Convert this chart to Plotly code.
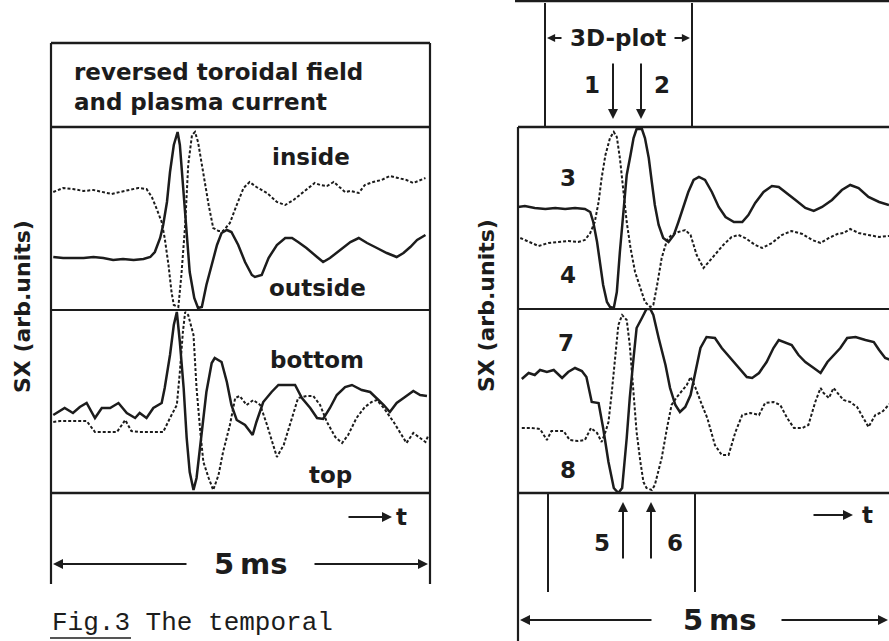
import plotly.graph_objects as go

W, H = 889, 641

# ---------------- data (time in ms, signal in arb. units) ----------------
# left panel, upper box
T_INSIDE = [0.03,0.16,0.29,0.43,0.56,0.69,0.80,0.91,1.04,1.15,1.26,1.33,1.39,1.46,1.50,1.55,1.59,1.62,1.68,1.72,1.77,1.81,1.86,1.90,1.94,2.01,2.08,2.14,2.21,2.27,2.36,2.45,2.54,2.62,2.71,2.85,2.98,3.09,3.20,3.33,3.48,3.55,3.64,3.73,3.81,3.88,3.95,4.06,4.14,4.25,4.36,4.47,4.58,4.69,4.78,4.87,4.94]
V_INSIDE = [118,122,121,119,120,118,116,118,120,122,121,113,102,88,72,45,18,5,3,35,85,145,175,178,168,135,105,82,79,79,87,105,122,128,123,117,108,105,110,118,127,125,124,128,123,118,119,117,125,128,130,134,132,130,127,130,132]

T_OUTSIDE = [0.03,0.16,0.29,0.43,0.56,0.69,0.82,0.95,1.09,1.22,1.31,1.37,1.44,1.48,1.53,1.57,1.62,1.67,1.70,1.75,1.79,1.83,1.89,1.94,1.99,2.05,2.12,2.19,2.25,2.32,2.38,2.47,2.56,2.65,2.69,2.78,2.87,2.98,3.09,3.18,3.26,3.37,3.51,3.59,3.68,3.81,3.95,4.06,4.17,4.30,4.43,4.56,4.65,4.74,4.83,4.94]
V_OUTSIDE = [53,52,52,52,53,52,50,51,50,51,53,58,72,85,108,138,165,178,165,118,75,38,12,2,3,25,45,65,77,80,78,65,48,35,33,35,52,65,72,72,68,62,53,48,52,60,68,72,67,62,57,53,57,63,70,75]

# left panel, lower box
T_BOTTOM = [0.03,0.10,0.18,0.29,0.38,0.47,0.58,0.67,0.78,0.89,1.00,1.11,1.17,1.26,1.35,1.46,1.50,1.57,1.62,1.66,1.70,1.75,1.79,1.83,1.88,1.92,1.99,2.05,2.12,2.16,2.25,2.32,2.38,2.45,2.56,2.66,2.71,2.80,2.91,3.00,3.11,3.22,3.31,3.42,3.51,3.59,3.68,3.77,3.88,3.97,4.10,4.21,4.32,4.39,4.47,4.56,4.67,4.78,4.87,4.96]
V_BOTTOM = [78,81,85,80,86,90,75,85,85,90,80,75,80,75,85,90,105,138,168,181,151,105,55,21,3,15,61,101,130,135,131,111,88,73,68,58,71,91,101,108,108,108,95,85,75,74,85,98,106,108,103,101,93,88,81,90,96,102,98,97]

T_TOP = [0.03,0.12,0.25,0.38,0.47,0.58,0.69,0.87,0.98,1.06,1.17,1.31,1.48,1.57,1.66,1.70,1.74,1.77,1.81,1.88,1.92,1.97,2.01,2.08,2.14,2.21,2.27,2.36,2.43,2.49,2.58,2.67,2.76,2.85,2.98,3.07,3.15,3.26,3.37,3.46,3.55,3.64,3.75,3.84,3.92,4.03,4.14,4.23,4.30,4.39,4.52,4.63,4.69,4.78,4.87,4.94,4.98]
V_TOP = [71,72,72,72,72,61,61,61,73,62,61,61,61,75,88,121,161,181,178,158,105,61,31,15,3,18,41,68,95,97,88,93,88,68,36,48,68,95,97,97,88,71,56,50,58,75,86,91,93,85,71,58,50,60,55,51,58]

# right panel, upper box
T_3 = [0.00,0.09,0.22,0.36,0.49,0.62,0.75,0.88,0.95,0.99,1.04,1.08,1.12,1.17,1.21,1.26,1.30,1.34,1.39,1.43,1.48,1.52,1.56,1.63,1.67,1.72,1.76,1.80,1.85,1.91,1.98,2.05,2.11,2.18,2.24,2.31,2.38,2.46,2.55,2.64,2.73,2.84,2.95,3.03,3.12,3.23,3.34,3.43,3.52,3.65,3.78,3.89,4.00,4.13,4.26,4.37,4.48,4.61,4.75,4.88]
V_3 = [102,103,101,100,101,100,101,100,97,87,67,44,24,7,2,1,17,57,97,134,154,171,180,180,171,151,127,104,84,71,67,74,87,104,117,129,132,129,117,102,92,87,87,94,106,117,123,122,117,109,101,98,102,109,119,124,121,112,107,104]

T_4 = [0.03,0.14,0.27,0.40,0.53,0.66,0.79,0.88,0.95,1.01,1.06,1.10,1.15,1.21,1.26,1.30,1.34,1.39,1.43,1.48,1.54,1.61,1.67,1.74,1.78,1.83,1.89,1.96,2.02,2.11,2.20,2.27,2.35,2.44,2.53,2.62,2.70,2.81,2.90,2.99,3.12,3.21,3.34,3.47,3.60,3.74,3.87,3.98,4.09,4.20,4.28,4.37,4.48,4.61,4.75,4.88]
V_4 = [71,67,63,66,67,68,67,69,76,87,107,131,154,171,177,172,151,117,87,61,37,21,7,2,4,24,51,69,74,77,79,74,54,41,49,56,64,72,74,71,64,61,66,74,78,75,69,66,71,75,76,80,76,74,72,73]

# right panel, lower box
T_7 = [0.05,0.14,0.22,0.29,0.38,0.47,0.58,0.66,0.75,0.84,0.90,0.97,1.06,1.12,1.19,1.26,1.32,1.37,1.43,1.47,1.52,1.56,1.63,1.69,1.74,1.78,1.85,1.94,2.00,2.07,2.13,2.20,2.27,2.33,2.40,2.48,2.59,2.68,2.79,2.90,3.01,3.08,3.17,3.27,3.36,3.43,3.49,3.60,3.69,3.78,3.89,3.98,4.07,4.15,4.24,4.33,4.44,4.57,4.68,4.75,4.83,4.90]
V_7 = [114,120,118,123,121,123,115,121,125,122,116,91,90,65,31,5,0,5,55,95,135,165,175,184,184,178,155,128,105,88,81,86,98,121,145,156,155,145,135,126,116,115,120,131,145,153,151,148,138,131,125,120,131,138,145,155,156,153,151,143,135,133]

T_8 = [0.05,0.18,0.29,0.38,0.44,0.53,0.60,0.68,0.79,0.88,0.96,1.04,1.10,1.15,1.19,1.23,1.28,1.32,1.37,1.43,1.47,1.52,1.56,1.61,1.65,1.69,1.76,1.80,1.89,1.96,2.02,2.09,2.16,2.22,2.27,2.33,2.42,2.49,2.59,2.68,2.77,2.86,2.95,3.06,3.17,3.25,3.36,3.45,3.54,3.63,3.74,3.82,3.91,3.98,4.02,4.09,4.15,4.22,4.28,4.37,4.46,4.52,4.61,4.70,4.79,4.85,4.90]
V_8 = [65,65,64,53,62,62,62,53,52,53,65,60,51,61,71,98,138,168,178,173,148,101,61,31,11,5,3,8,35,65,88,96,103,108,116,106,88,75,48,38,38,61,78,80,78,90,91,88,75,65,65,68,91,105,100,95,105,98,93,91,86,78,66,78,81,86,90]

LEFT_LABELS = ["inside", "outside", "bottom", "top"]
RIGHT_LABELS = ["1", "2", "3", "4", "5", "6", "7", "8"]
HEADER_TEXT = "reversed toroidal field<br>and plasma current"
Y_TITLE = "SX (arb.units)"
SPAN_LABEL = "5\u2009ms"
CAPTION = "Fig.3 The temporal"

# ---------------- helpers ----------------
def X(px):
    return px / W

def Y(py):
    return 1 - py / H

INK = "#1c1c1c"
FONT = "DejaVu Sans"
FS = 23

fig = go.Figure()

solid = dict(color=INK, width=2.5)
dotted = dict(color=INK, width=2.0, dash="3px,2px")

fig.add_trace(go.Scatter(x=T_INSIDE, y=V_INSIDE, mode="lines", line=dotted, xaxis="x", yaxis="y"))
fig.add_trace(go.Scatter(x=T_OUTSIDE, y=V_OUTSIDE, mode="lines", line=solid, xaxis="x", yaxis="y"))
fig.add_trace(go.Scatter(x=T_TOP, y=V_TOP, mode="lines", line=dotted, xaxis="x2", yaxis="y2"))
fig.add_trace(go.Scatter(x=T_BOTTOM, y=V_BOTTOM, mode="lines", line=solid, xaxis="x2", yaxis="y2"))
fig.add_trace(go.Scatter(x=T_4, y=V_4, mode="lines", line=dotted, xaxis="x3", yaxis="y3"))
fig.add_trace(go.Scatter(x=T_3, y=V_3, mode="lines", line=solid, xaxis="x3", yaxis="y3"))
fig.add_trace(go.Scatter(x=T_8, y=V_8, mode="lines", line=dotted, xaxis="x4", yaxis="y4"))
fig.add_trace(go.Scatter(x=T_7, y=V_7, mode="lines", line=solid, xaxis="x4", yaxis="y4"))

ax_common = dict(visible=False, fixedrange=True)
left_dom = [X(51), X(430)]
right_dom = [X(518), 1.0]
fig.update_layout(
    xaxis=dict(domain=left_dom, range=[0, 5], anchor="y", **ax_common),
    yaxis=dict(domain=[Y(310), Y(127)], range=[0, 183], anchor="x", **ax_common),
    xaxis2=dict(domain=left_dom, range=[0, 5], anchor="y2", **ax_common),
    yaxis2=dict(domain=[Y(493), Y(310)], range=[0, 183], anchor="x2", **ax_common),
    xaxis3=dict(domain=right_dom, range=[0, 4.88], anchor="y3", **ax_common),
    yaxis3=dict(domain=[Y(309), Y(127)], range=[0, 182], anchor="x3", **ax_common),
    xaxis4=dict(domain=right_dom, range=[0, 4.88], anchor="y4", **ax_common),
    yaxis4=dict(domain=[Y(493), Y(309)], range=[0, 184], anchor="x4", **ax_common),
)

# ---------------- frame lines ----------------
shapes = []
def hline(x0, x1, y, w=2.0):
    shapes.append(dict(type="line", xref="paper", yref="paper", x0=X(x0), x1=X(x1), y0=Y(y), y1=Y(y),
                       line=dict(color=INK, width=w)))
def vline(x, y0, y1, w=2.0):
    shapes.append(dict(type="line", xref="paper", yref="paper", x0=X(x), x1=X(x), y0=Y(y0), y1=Y(y1),
                       line=dict(color=INK, width=w)))

# left panel
hline(51, 430, 43, 2.4)
hline(51, 430, 127, 2.6)
hline(51, 430, 310, 2.0)
hline(51, 430, 493, 2.6)
vline(51, 43, 584, 2.2)
vline(430, 43, 584, 2.2)
# right panel
hline(515, 889, 1, 2.6)
vline(545, 3, 127, 2.0)
vline(692, 3, 127, 2.0)
hline(518, 889, 127, 2.6)
hline(518, 889, 309, 2.0)
hline(518, 889, 493, 2.6)
vline(518, 127, 641, 2.2)
vline(548, 493, 592, 2.0)
vline(695, 493, 592, 2.0)
# caption underline
hline(50, 131, 638, 1.6)

fig.update_layout(shapes=shapes)

# ---------------- annotations ----------------
ann = []
def text(px, py, s, size=FS, xanchor="center", family=FONT, angle=0, weight="bold"):
    ann.append(dict(x=X(px), y=Y(py), xref="paper", yref="paper", text=s, showarrow=False,
                    xanchor=xanchor, yanchor="middle", textangle=angle,
                    font=dict(family=family, size=size, color=INK, weight=weight)))
def arrow(hx, hy, tx, ty, w=2.0, size=1.0):
    ann.append(dict(x=X(hx), y=Y(hy), xref="paper", yref="paper", ax=tx - hx, ay=ty - hy,
                    axref="pixel", ayref="pixel", text="", showarrow=True,
                    arrowhead=2, arrowsize=size, arrowwidth=w, arrowcolor=INK, standoff=0))

# left
ann.append(dict(x=X(72), y=Y(87), xref="paper", yref="paper", text=HEADER_TEXT, showarrow=False,
                xanchor="left", yanchor="middle", align="left",
                font=dict(family=FONT, size=FS, color=INK, weight="bold")))
text(311, 157, LEFT_LABELS[0])
text(317, 288, LEFT_LABELS[1])
text(317, 360, LEFT_LABELS[2])
text(330, 475, LEFT_LABELS[3])
text(22, 307, Y_TITLE, size=22, angle=-90)
arrow(392, 517, 347, 517)
text(401, 517, "t")
text(251, 564, SPAN_LABEL, size=29)
arrow(53, 564, 188, 564)
arrow(428, 564, 313, 564)
text(50, 623, CAPTION, size=26, xanchor="left", family="Liberation Mono", weight="normal")

# right
text(618, 38, "3D-plot")
arrow(547, 38, 563, 38, w=1.8, size=0.9)
arrow(690, 38, 673, 38, w=1.8, size=0.9)
arrow(613, 119, 613, 62)
arrow(641, 119, 641, 62)
text(592, 85, RIGHT_LABELS[0])
text(662, 85, RIGHT_LABELS[1])
text(568, 178, RIGHT_LABELS[2])
text(568, 275, RIGHT_LABELS[3])
text(566, 343, RIGHT_LABELS[6])
text(568, 470, RIGHT_LABELS[7])
arrow(623, 502, 623, 560)
arrow(651, 502, 651, 560)
text(602, 543, RIGHT_LABELS[4])
text(675, 543, RIGHT_LABELS[5])
arrow(853, 515, 812, 515)
text(867, 515, "t")
text(719, 620, SPAN_LABEL, size=29)
arrow(520, 620, 653, 620)
arrow(905, 620, 780, 620)
text(486, 306, Y_TITLE, size=22, angle=-90)

fig.update_layout(
    annotations=ann,
    width=W, height=H,
    margin=dict(l=0, r=0, t=0, b=0),
    paper_bgcolor="white", plot_bgcolor="white",
    showlegend=False,
)

fig.write_html("out.html", config={"displayModeBar": False})
